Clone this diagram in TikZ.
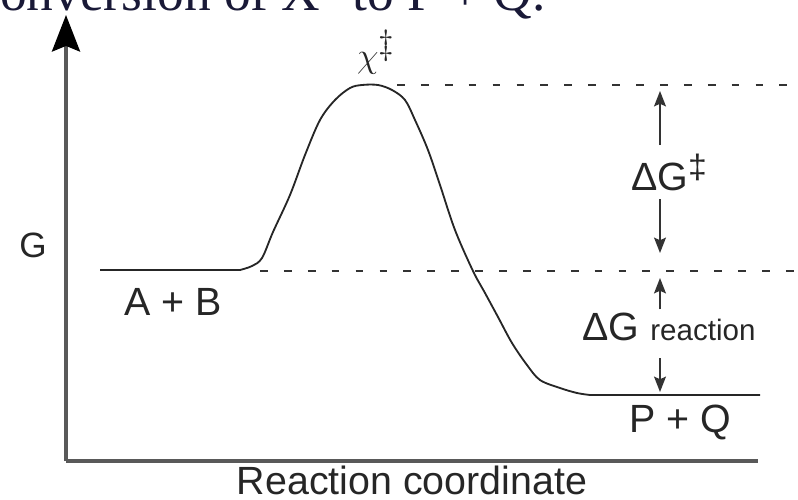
\documentclass[tikz,border=0pt]{standalone}
\usepackage{fontspec}
\setmainfont{Liberation Serif}
\setsansfont{Liberation Sans}
\usetikzlibrary{arrows.meta, positioning}

\newcommand{\petitcorps}{\fontsize{21}{24}\selectfont}

\begin{document}
\begin{tikzpicture}[
  x=0.025cm, y=-0.025cm,
  font=\sffamily\fontsize{28}{32}\selectfont,
  axe/.style={line width=2.2pt, draw=black!65},
  courbe/.style={line width=1.3pt, draw=black!85, line join=round},
  pointille/.style={line width=1pt, draw=black!80, dash pattern=on 5.5pt off 11.5pt},
  fleche/.style={
    -{Stealth[length=11pt, width=8.5pt, inset=2pt]},
    line width=1.3pt,
    draw=black!80
  },
  etiquette/.style={text=black!85, inner sep=0pt},
  titre/.style={
    font=\rmfamily\fontsize{38}{40}\selectfont,
    text={rgb,255:red,25;green,25;blue,55},
    inner sep=0pt
  }
]
  \useasboundingbox (0,0) rectangle (798,500);
  \clip (0,0) rectangle (798,500);

  % cut-off caption line
  \node[titre, anchor=base west] (legende) at (-24,11)
    {conversion of X\raisebox{0.55em}{\fontsize{26}{28}\selectfont ‡} to P + Q.};

  % axes
  \coordinate (origine) at (66,461);
  \coordinate (haut) at (66,15);
  \coordinate (droite) at (758,461);
  \draw[axe, -{Stealth[length=26pt, width=20pt, inset=4pt, color=black]}] (origine) -- (haut);
  \draw[axe] (origine) -- (droite);

  % energy profile
  \coordinate (depart) at (240,270);
  \draw[courbe] (100,270) -- (depart)
    plot[smooth, tension=0.55] coordinates {
      (240,270) (252,266) (262,258) (273,232) (290,195) (305,155)
      (320,120) (335,100) (350,88) (362,85) (378,85) (392,90)
      (405,100) (415,120) (428,150) (440,185) (455,230) (473,271)
      (485,293) (498,317) (512,343) (527,365) (540,380) (560,388)
      (577,393) (590,395)}
    -- (760,395);

  % reference levels
  \coordinate (ts1) at (397,85);
  \coordinate (ts2) at (798,85);
  \coordinate (r1) at (260,271);
  \coordinate (r2) at (798,271);
  \draw[pointille] (ts1) -- (ts2);
  \draw[pointille] (r1) -- (r2);

  % labels
  \node[etiquette, font=\sffamily\fontsize{25}{28}\selectfont] (g) at (33,245) {G};
  \node[etiquette] (ab) at (173,302) {A + B};
  \node[etiquette] (pq) at (680,422) {P + Q};
  \node[etiquette] (abscisse) at (412,480) {Reaction coordinate};
  \node[etiquette, font=\fontsize{33}{36}\selectfont] (etat) at (376,52) {$\chi^{\ddagger}$};

  \node[etiquette, anchor=base, inner ysep=6pt] (dgts) at (669,190)
    {ΔG\raisebox{0.3em}{\fontsize{24}{26}\selectfont ‡}};
  \node[etiquette, anchor=base, inner ysep=2pt] (dgr) at (669,340)
    {ΔG {\petitcorps reaction}};

  % free-energy arrows
  \coordinate (fts1) at (660,91);
  \coordinate (fts2) at (660,253);
  \coordinate (fr1) at (660,278);
  \coordinate (fr0) at (660,358);
  \coordinate (fr2) at (660,392);
  \draw[fleche] (dgts.north -| fts1) -- (fts1);
  \draw[fleche] (dgts.south -| fts2) -- (fts2);
  \draw[fleche] (dgr.north -| fr1) -- (fr1);
  \draw[fleche] (fr0) -- (fr2);
\end{tikzpicture}
\end{document}
